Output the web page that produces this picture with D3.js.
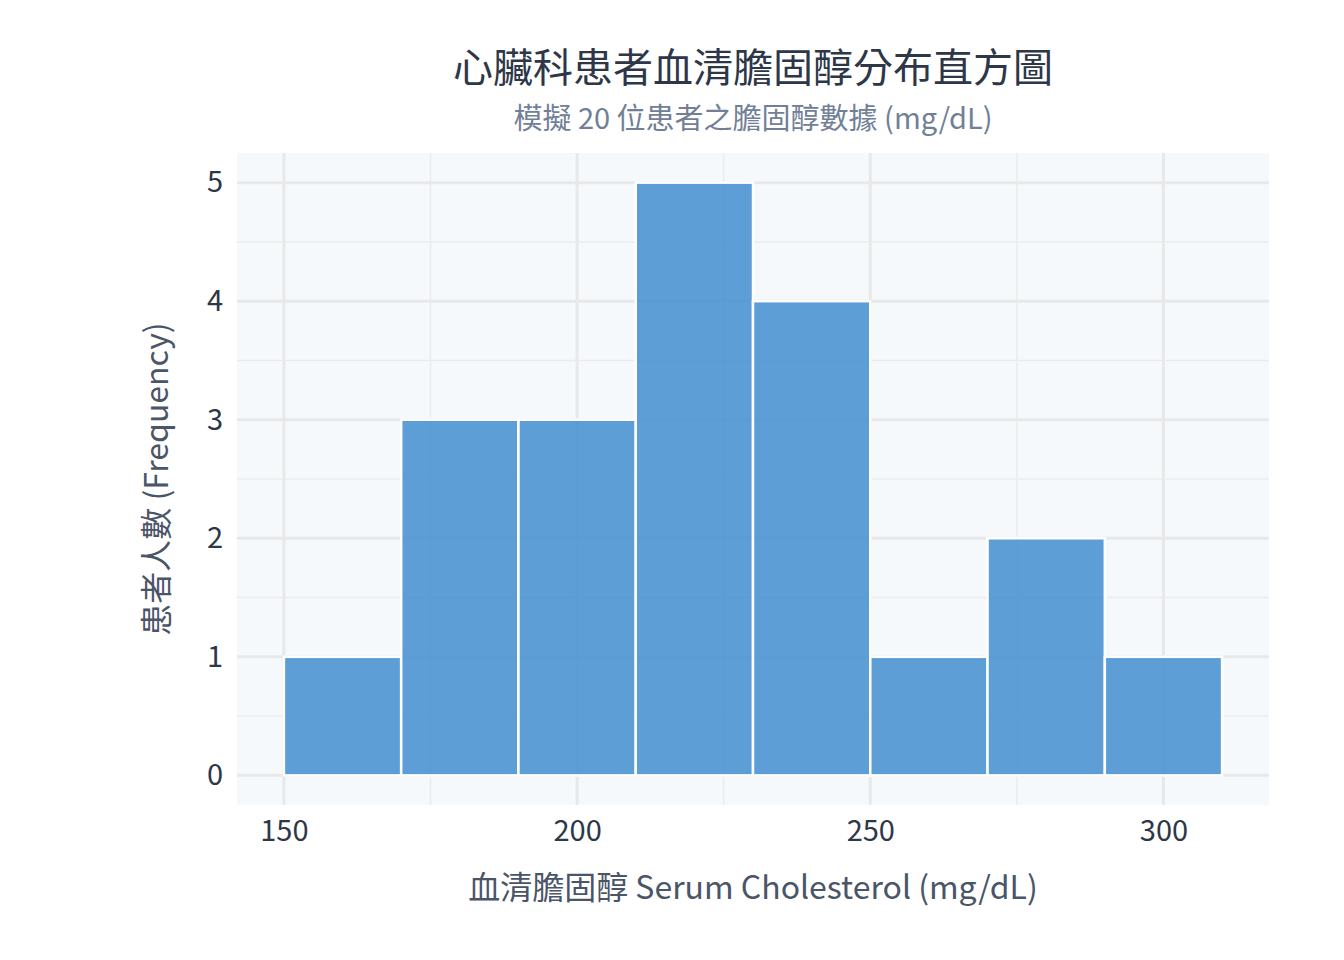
<!DOCTYPE html>
<html lang="zh-Hant">
<head>
    <meta charset="UTF-8">
    <title>心臟科患者血清膽固醇分布直方圖</title>
    <style>
        body { margin: 0; background: #fff; }
        svg text { font-family: "Noto Sans CJK TC", "Noto Sans", sans-serif; }
    </style>
</head>
<body>
    <svg id="chart" width="1344" height="960"></svg>
    <script src="https://d3js.org/d3.v7.min.js"></script>
    <script>
        // bin edges (mg/dL) and patient counts per bin
        var binStarts = [150, 170, 190, 210, 230, 250, 270, 290];
        var binWidth = 20;
        var counts = [1, 3, 3, 5, 4, 1, 2, 1];
        var xTicks = [150, 200, 250, 300];
        var yTicks = [0, 1, 2, 3, 4, 5];

        var margin = { top: 153, right: 75, bottom: 155, left: 237 },
            width = 1344 - margin.left - margin.right,
            height = 960 - margin.top - margin.bottom;

        var svg = d3.select("#chart");
        var g = svg.append("g")
            .attr("transform", "translate(" + margin.left + "," + margin.top + ")");

        var x = d3.scaleLinear().domain([142, 318]).range([0, width]);
        var y = d3.scaleLinear().domain([-0.25, 5.25]).range([height, 0]);

        // plot background
        g.append("rect")
            .attr("width", width)
            .attr("height", height)
            .attr("fill", "#f6f9fc");

        // minor grid
        var xMinor = [175, 225, 275];
        var yMinor = [0.5, 1.5, 2.5, 3.5, 4.5];
        g.selectAll(".xminor").data(xMinor).enter().append("line")
            .attr("x1", d => x(d)).attr("x2", d => x(d))
            .attr("y1", 0).attr("y2", height)
            .attr("stroke", "#ebebeb").attr("stroke-width", 1.5);
        g.selectAll(".yminor").data(yMinor).enter().append("line")
            .attr("x1", 0).attr("x2", width)
            .attr("y1", d => y(d)).attr("y2", d => y(d))
            .attr("stroke", "#ebebeb").attr("stroke-width", 1.5);

        // major grid
        g.selectAll(".xmajor").data(xTicks).enter().append("line")
            .attr("x1", d => x(d)).attr("x2", d => x(d))
            .attr("y1", 0).attr("y2", height)
            .attr("stroke", "#e8e8e8").attr("stroke-width", 3);
        g.selectAll(".ymajor").data(yTicks).enter().append("line")
            .attr("x1", 0).attr("x2", width)
            .attr("y1", d => y(d)).attr("y2", d => y(d))
            .attr("stroke", "#e8e8e8").attr("stroke-width", 3);

        // bars
        g.selectAll(".bar")
            .data(binStarts.map((s, i) => ({ x0: s, x1: s + binWidth, n: counts[i] })))
            .enter().append("rect")
            .attr("class", "bar")
            .attr("x", d => x(d.x0))
            .attr("y", d => y(d.n))
            .attr("width", d => x(d.x1) - x(d.x0))
            .attr("height", d => y(0) - y(d.n))
            .attr("fill", "#4c93d3")
            .attr("fill-opacity", 0.9)
            .attr("stroke", "#ffffff")
            .attr("stroke-width", 2.5);

        // axes (labels only)
        var xAxis = g.append("g")
            .attr("transform", "translate(0," + height + ")")
            .call(d3.axisBottom(x).tickValues(xTicks).tickFormat(d3.format("d")).tickSize(0).tickPadding(15));
        var yAxis = g.append("g")
            .call(d3.axisLeft(y).tickValues(yTicks).tickFormat(d3.format("d")).tickSize(0).tickPadding(14));
        [xAxis, yAxis].forEach(function(a) {
            a.select(".domain").remove();
            a.selectAll("text")
                .style("font-family", '"Noto Sans CJK TC", "Noto Sans", sans-serif')
                .style("font-size", "29px")
                .attr("fill", "#2d3748");
        });

        var cx = margin.left + width / 2;

        // title + subtitle
        svg.append("text")
            .attr("x", cx).attr("y", 82)
            .attr("text-anchor", "middle")
            .style("font-size", "40px")
            .attr("fill", "#2d3748")
            .text("心臟科患者血清膽固醇分布直方圖");
        svg.append("text")
            .attr("x", cx).attr("y", 129)
            .attr("text-anchor", "middle")
            .style("font-size", "29px")
            .attr("fill", "#718096")
            .text("模擬 20 位患者之膽固醇數據 (mg/dL)");

        // axis titles
        svg.append("text")
            .attr("x", cx).attr("y", 899)
            .attr("text-anchor", "middle")
            .style("font-size", "32px")
            .attr("fill", "#4a5568")
            .text("血清膽固醇 Serum Cholesterol (mg/dL)");
        svg.append("text")
            .attr("transform", "translate(168," + (margin.top + y(2.5)) + ") rotate(-90)")
            .attr("text-anchor", "middle")
            .style("font-size", "32px")
            .attr("fill", "#4a5568")
            .text("患者人數 (Frequency)");
    </script>
</body>
</html>
